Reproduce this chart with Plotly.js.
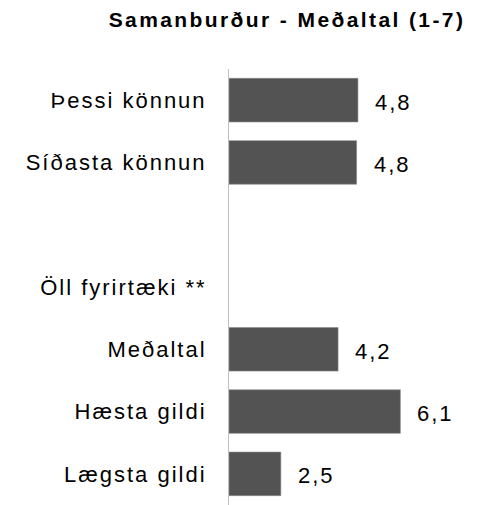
<!DOCTYPE html>
<html>
<head>
<meta charset="utf-8">
<script src="https://cdn.plot.ly/plotly-3.0.1.min.js"></script>
<style>
html,body{margin:0;padding:0;background:#fff;}
#chart{width:487px;height:505px;}
.ytick text,.annotation-text{letter-spacing:2px;}
.gtitle{letter-spacing:2.4px;}
</style>
</head>
<body>
<div id="chart"></div>
<script>
// Data
const categories = ["Þessi könnun", "Síðasta könnun", " ", "Öll fyrirtæki **", "Meðaltal", "Hæsta gildi", "Lægsta gildi"];
const values = [4.83, 4.79, null, null, 4.24, 6.09, 2.54];
const chartTitle = "Samanburður - Meðaltal (1-7)";

const fmt = v => v.toFixed(1).replace('.', ',');

const annotations = [];
categories.forEach((c, i) => {
  if (values[i] !== null) {
    annotations.push({
      x: values[i], y: c, xref: 'x', yref: 'y',
      text: fmt(values[i]), showarrow: false,
      xanchor: 'left', yanchor: 'middle', xshift: 15, yshift: -2,
      font: {family: 'Liberation Sans, Arial, sans-serif', size: 22, color: '#000'}
    });
  }
});

// bars start at the scale minimum (1)
const trace = {
  type: 'bar',
  orientation: 'h',
  y: categories,
  x: values.map(v => v === null ? null : v - 1),
  base: 1,
  width: 0.7,
  marker: {color: '#535353', line: {color: '#8a8a8a', width: 0.6}},
  hoverinfo: 'none'
};

const layout = {
  width: 487, height: 505,
  margin: {l: 229, r: 56, t: 69, b: 0, pad: 0},
  paper_bgcolor: '#fff', plot_bgcolor: '#fff',
  showlegend: false,
  title: {
    text: '<b>' + chartTitle + '</b>',
    x: 287 / 487, xanchor: 'center', xref: 'container',
    y: 1 - 20 / 505, yanchor: 'middle', yref: 'container',
    font: {family: 'Liberation Sans, Arial, sans-serif', size: 21, color: '#000'}
  },
  xaxis: {range: [1, 7], showgrid: false, zeroline: false, showticklabels: false, ticks: '', showline: false, fixedrange: true},
  yaxis: {
    type: 'category', autorange: 'reversed',
    showgrid: false, zeroline: false, ticks: '',
    showline: true, linecolor: '#bfbfbf', linewidth: 1,
    ticklabelstandoff: 17,
    tickfont: {family: 'Liberation Sans, Arial, sans-serif', size: 22, color: '#000'},
    fixedrange: true
  },
  annotations: annotations
};

Plotly.newPlot('chart', [trace], layout, {displayModeBar: false, staticPlot: true});
</script>
</body>
</html>
